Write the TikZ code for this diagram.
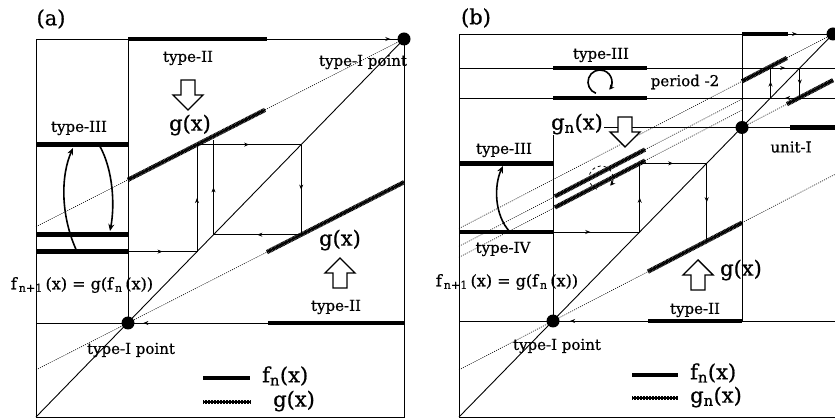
\documentclass[tikz,border=0pt]{standalone}
\usepackage{fontspec}
\setmainfont{DejaVu Serif}
\newfontfamily\semib{DejaVu Serif}[FakeBold=0.7]
\usetikzlibrary{arrows.meta,decorations.markings,calc}
\begin{document}
\begin{tikzpicture}[x=1pt,y=-1pt,
 ln/.style={line width=0.9pt},
 fl/.style={line width=4.4pt},
 gl/.style={line width=4.4pt, dash pattern=on 1pt off 0.5pt, postaction={draw,solid,line width=1.4pt}},
 dl/.style={line width=0.6pt, dash pattern=on 1pt off 1.2pt},
 dot/.style={circle,fill=black,inner sep=0pt,minimum size=13pt},
 ma/.style={postaction={decorate},decoration={markings,mark=at position #1 with {\arrow{Stealth[length=5pt,width=4pt]}}}},
 lab/.style={inner sep=0pt,font=\fontsize{15}{18}\semib},
 eqn/.style={inner sep=0pt,font=\fontsize{16}{19}\semib},
 big/.style={inner sep=0pt,font=\fontsize{21}{25}\semib},
 hollow/.style={line width=1.4pt,fill=white,line join=miter},
 curv/.style={line width=1.6pt,-{Stealth[length=7pt,width=6pt]}}
]
\useasboundingbox (0,0) rectangle (835,419);

% ================= panel (a) =================
\coordinate (aTL) at (36,39);
\coordinate (aBR) at (404,417);
\coordinate (aBL) at (36,417);
\draw[ln] (aTL) rectangle (aBR);
\draw[ln] (128,39) -- (128,323);
\draw[ln] (aBL) -- (404,39);
\draw[fl] (128,39) -- (267,39);
\draw[ln,ma=0.9] (267,39) -- (404,39);
\draw[ln] (36,323) -- (128,323);
\draw[ln,ma=0.89] (268,323) -- (128,323);
\draw[fl] (268,323) -- (404,323);
% g lines
\draw[dl] (36,226.7) -- (128,179.8);
\draw[gl] (128,179.8) -- (265,109.9);
\draw[dl] (265,109.9) -- (404,39);
\draw[dl] (36,369.9) -- (267,252.1);
\draw[gl] (267,252.1) -- (404,182.2);
% type-III segments
\draw[fl] (36,144.6) -- (128,144.6);
\draw[fl] (36,234.7) -- (128,234.7);
\draw[fl] (36,251.6) -- (128,251.6);
% cobweb
\draw[ln,ma=0.5] (128,251.6) -- (197,251.6);
\draw[ln,ma=0.5] (197,251.6) -- (197,144.6);
\draw[ln,ma=0.5] (197,144.6) -- (301.2,144.6);
\draw[ln,ma=0.5] (301.2,144.6) -- (301.2,234.7);
\draw[ln,ma=0.5] (301.2,234.7) -- (213.5,234.7);
\draw[ln,ma=0.5] (213.5,234.7) -- (213.5,140);
% curved arrows
\draw[curv] (77,251.6) .. controls (60,215) and (61,175) .. (73,148);
\draw[curv] (100,146.5) .. controls (113,170) and (115,205) .. (110,231);
% dots
\node[dot] (a1) at (128,323) {};
\node[dot] (a2) at (404,39) {};
% hollow arrows
\draw[hollow] (181,80) -- (195,80) -- (195,95) -- (203,95) -- (188,110) -- (173,95) -- (181,95) -- cycle;
\draw[hollow] (333,288) -- (347,288) -- (347,273) -- (355,273) -- (340,258) -- (325,273) -- (333,273) -- cycle;
% labels
\node[big] (la) at (51,19) {(a)};
\node[lab] (t1) at (188,58) {type-II};
\node[big] (g1) at (190,125) {g(x)};
\node[lab] (t2) at (363,62) {type-I point};
\node[lab] (t3) at (79,128) {type-III};
\node[eqn] (eqa) at (82,285) {f\textsubscript{\,n+1}\,(x) = g(f\textsubscript{\,n}\,(x))};
\node[lab] (t4) at (131,350) {type-I point};
\node[big] (g2) at (340,240) {g(x)};
\node[lab] (t5) at (336,307) {type-II};
\draw[fl] (203,378) -- (250,378);
\node[big,anchor=west] (lf) at (262,376) {f\textsubscript{n}(x)};
\draw[gl] (203,402) -- (250,402);
\node[big,anchor=west] (lg) at (273,401) {g(x)};

% ================= panel (b) =================
\draw[ln] (459,34) -- (835,34);
\draw[ln] (459,34) -- (459,417);
\draw[ln] (459,417) -- (835,417);
\draw[ln] (459,417) -- (833,34);
\draw[ln] (459,68) -- (835,68);
\draw[ln] (459,98) -- (835,98);
\draw[fl] (553,68) -- (647,68);
\draw[fl] (553,98) -- (647,98);
\draw[ln] (553,127.5) -- (835,127.5);
\draw[fl] (790,127.5) -- (835,127.5);
\draw[fl] (742,34) -- (788,34);
\draw[ln,ma=0.2] (788,34) -- (833,34);
\draw[ln] (553,127.5) -- (553,321);
\draw[ln] (742,34) -- (742,321);
\draw[ln] (459,321) -- (553,321);
\draw[ln,ma=0.82] (648,321) -- (553,321);
\draw[ln] (742,321) -- (835,321);
\draw[fl] (648,321) -- (742,321);
% type-III / type-IV segments
\draw[fl] (459,163.4) -- (553,163.4);
\draw[fl] (459,232) -- (553,232);
% g_n lines
\draw[dl] (459,228.5) -- (742,81.3);
\draw[gl] (742,81.3) -- (787,57.9);
\draw[dl] (787,57.9) -- (833,34);
\draw[dl] (742,127.5) -- (787,104.1);
\draw[gl] (787,104.1) -- (833,80.2);
\draw[dl] (459,246.3) -- (555,196.4);
\draw[gl] (555,196.4) -- (645,149.6);
\draw[dl] (645,149.6) -- (742,99.2);
\draw[dl] (459,257.3) -- (555,207.4);
\draw[gl] (555,207.4) -- (645,160.6);
\draw[dl] (645,160.6) -- (742,110.2);
\draw[dl] (459,369.9) -- (648,271.6);
\draw[gl] (648,271.6) -- (742,222.7);
\draw[dl] (742,222.7) -- (835,174.4);
% cobweb (b)
\draw[ln,ma=0.43] (553,232) -- (639.7,232);
\draw[ln,ma=0.5] (639.7,232) -- (639.7,163.4);
\draw[ln,ma=0.5] (639.7,163.4) -- (706.7,163.4);
\draw[ln,ma=0.5] (706.7,163.4) -- (706.7,241.1);
% period-2 cobweb in unit-I
\draw[ln,ma=0.55] (770.5,98) -- (770.5,68);
\draw[ln,ma=0.5] (770.5,68) -- (799.8,68);
\draw[ln,ma=0.55] (799.8,68) -- (799.8,98);
\draw[ln,ma=0.5] (799.8,98) -- (770.5,98);
% loops
\draw[line width=1.6pt,-{Stealth[length=5pt,width=5pt]}] ($(600,82)+(110:12)$) arc[start angle=110, end angle=400, radius=12];
\draw[line width=0.8pt,dashed,-{Stealth[length=5pt,width=5pt]}] ($(601,178)+(110:12)$) arc[start angle=110, end angle=400, radius=12];
% curved arrow
\draw[curv] (510,232) .. controls (494,215) and (494,185) .. (503,166);
% dots
\node[dot] (b1) at (553,321) {};
\node[dot] (b2) at (742,127.5) {};
\node[dot] (b3) at (833,34) {};
% hollow arrows
\draw[hollow] (618,117) -- (632,117) -- (632,132) -- (640,132) -- (625,147) -- (610,132) -- (618,132) -- cycle;
\draw[hollow] (691,290) -- (705,290) -- (705,275) -- (713,275) -- (698,260) -- (683,275) -- (691,275) -- cycle;
% labels
\node[big] (lb) at (476,18) {(b)};
\node[lab] (u1) at (601,55) {type-III};
\node[lab] (u2) at (685,82) {period -2};
\node[big,fill=white,inner sep=1pt] (gn) at (577,124) {g\textsubscript{n}(x)};
\node[lab] (u3) at (791,147) {unit-I};
\node[lab] (u4) at (504,150) {type-III};
\node[lab] (u5) at (503,249) {type-IV};
\node[eqn] (eqb) at (507,282) {f\textsubscript{\,n+1}\,(x) = g(f\textsubscript{\,n}\,(x))};
\node[lab] (u6) at (557,346) {type-I point};
\node[big] (g3) at (741,270) {g(x)};
\node[lab] (u7) at (695,310) {type-II};
\draw[fl] (632,375) -- (678,375);
\node[big,anchor=west] (lf2) at (690,373) {f\textsubscript{n}(x)};
\draw[gl] (632,398) -- (678,398);
\node[big,anchor=west] (lg2) at (690,397) {g\textsubscript{n}(x)};
\end{tikzpicture}
\end{document}
